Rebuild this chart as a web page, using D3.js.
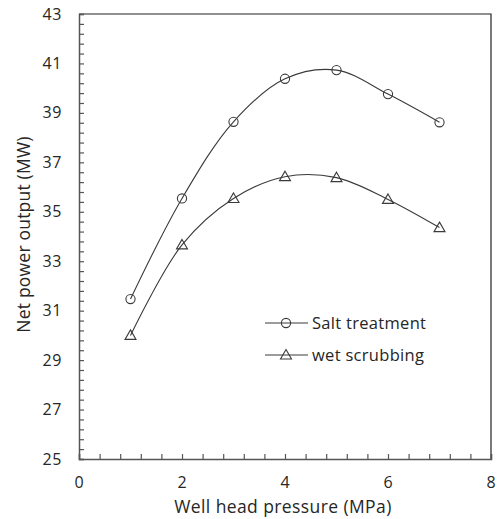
<!DOCTYPE html>
<html>
<head>
<meta charset="utf-8">
<script src="https://cdn.jsdelivr.net/npm/d3@7"></script>
<style>
  html, body { margin: 0; padding: 0; background: #fff; }
  svg { display: block; }
  text { font-family: "Open Sans", Lato, sans-serif; fill: #262626; }
</style>
</head>
<body>
<div id="chart"></div>
<script>
// Net power output versus well head pressure for two H2S abatement methods
const pressure = [1, 2, 3, 4, 5, 6, 7];
const saltTreatment = [31.47, 35.54, 38.64, 40.38, 40.73, 39.76, 38.62];
const wetScrubbing = [30.0, 33.66, 35.54, 36.42, 36.38, 35.5, 34.36];
const seriesNames = ["Salt treatment", "wet scrubbing"];
const xTicks = [0, 2, 4, 6, 8];
const yTicks = [25, 27, 29, 31, 33, 35, 37, 39, 41, 43];

const width = 497, height = 519;
const margin = { left: 79, top: 14, right: 6, bottom: 60 };
const plotW = width - margin.left - margin.right;
const plotH = height - margin.top - margin.bottom;

const svg = d3.select("#chart").append("svg")
  .attr("width", width).attr("height", height);

const x = d3.scaleLinear().domain([0, 8]).range([margin.left, margin.left + plotW]);
const y = d3.scaleLinear().domain([25, 43]).range([margin.top + plotH, margin.top]);

const lineColor = "#3a3a3a";
const axisColor = "#555";

// frame: top and right edges
svg.append("path")
  .attr("d", `M${x(0)},${y(43)}H${x(8)}V${y(25)}`)
  .attr("fill", "none").attr("stroke", "#222").attr("stroke-width", 1.2);

// minor ticks every 0.4 units, pointing inward
const yMinor = d3.range(25, 43.001, 0.4);
const xMinor = d3.range(0, 8.001, 0.4);

const yAxis = svg.append("g").attr("transform", `translate(${x(0)},0)`)
  .call(d3.axisLeft(y).tickValues(yMinor).tickSize(-5).tickFormat(""));
const xAxis = svg.append("g").attr("transform", `translate(0,${y(25)})`)
  .call(d3.axisBottom(x).tickValues(xMinor).tickSize(-5).tickFormat(""));
[yAxis, xAxis].forEach(g => {
  g.select(".domain").attr("stroke", axisColor).attr("stroke-width", 1.5);
  g.selectAll(".tick line").attr("stroke", axisColor).attr("stroke-width", 1.2);
});

// tick labels
svg.append("g").selectAll("text").data(yTicks).join("text")
  .attr("x", x(0) - 17).attr("y", d => y(d)).attr("dy", "0.35em")
  .attr("text-anchor", "end").attr("font-size", 16).attr("letter-spacing", 0.6).text(d => d);
svg.append("g").selectAll("text").data(xTicks).join("text")
  .attr("x", d => x(d)).attr("y", y(25) + 29)
  .attr("text-anchor", "middle").attr("font-size", 16).text(d => d);

// axis titles
svg.append("text")
  .attr("x", (x(0) + x(8)) / 2 - 2).attr("y", y(25) + 54)
  .attr("text-anchor", "middle").attr("font-size", 17.5).attr("letter-spacing", 0.4)
  .text("Well head pressure (MPa)");
svg.append("text")
  .attr("transform", `translate(30,${(y(25) + y(43)) / 2 - 2}) rotate(-90)`)
  .attr("text-anchor", "middle").attr("font-size", 17.5).attr("letter-spacing", 0.2)
  .text("Net power output (MW)");

const series = [
  { name: seriesNames[0], values: saltTreatment, marker: "circle" },
  { name: seriesNames[1], values: wetScrubbing, marker: "triangle" }
];

const line = d3.line().curve(d3.curveCatmullRom.alpha(0.5))
  .x(d => x(d[0])).y(d => y(d[1]));

function drawMarker(g, type, cx, cy) {
  if (type === "circle") {
    g.append("circle").attr("cx", cx).attr("cy", cy).attr("r", 4.6)
      .attr("fill", "none").attr("stroke", lineColor).attr("stroke-width", 1.1);
  } else {
    g.append("path")
      .attr("d", `M${cx},${cy - 5.5}L${cx + 5.5},${cy + 4}L${cx - 5.5},${cy + 4}Z`)
      .attr("fill", "none").attr("stroke", lineColor).attr("stroke-width", 1.1);
  }
}

series.forEach(s => {
  const pts = pressure.map((p, i) => [p, s.values[i]]);
  svg.append("path").attr("d", line(pts))
    .attr("fill", "none").attr("stroke", lineColor).attr("stroke-width", 1.1);
  const g = svg.append("g");
  pts.forEach(p => drawMarker(g, s.marker, x(p[0]), y(p[1])));
});

// legend
const legend = svg.append("g");
series.forEach((s, i) => {
  const ly = 323 + i * 32;
  legend.append("line").attr("x1", 265).attr("x2", 308).attr("y1", ly).attr("y2", ly)
    .attr("stroke", lineColor).attr("stroke-width", 1.1);
  drawMarker(legend, s.marker, 286, ly);
  legend.append("text").attr("x", 312).attr("y", ly).attr("dy", "0.35em")
    .attr("font-size", 16.5).attr("letter-spacing", 0.3).text(s.name);
});
</script>
</body>
</html>
